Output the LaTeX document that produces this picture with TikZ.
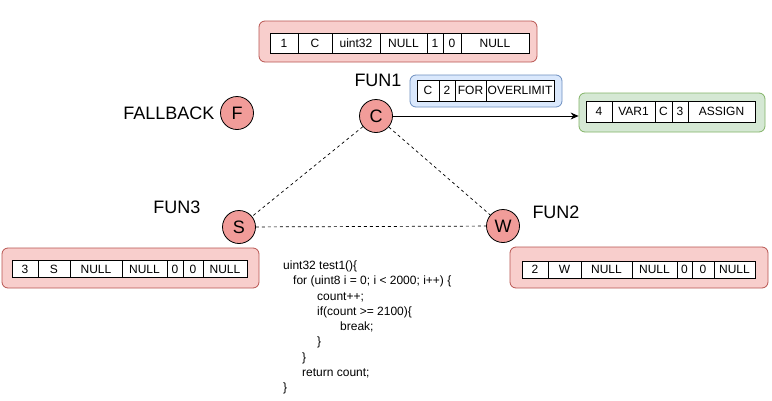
\documentclass[tikz,border=0pt]{standalone}
\usepackage{fontspec}
\setmainfont{Liberation Sans}
\usetikzlibrary{arrows.meta,positioning}
\definecolor{pk}{HTML}{F8CECC}\definecolor{pkd}{HTML}{B85450}
\definecolor{bl}{HTML}{DAE8FC}\definecolor{bld}{HTML}{6C8EBF}
\definecolor{gr}{HTML}{D5E8D4}\definecolor{grd}{HTML}{82B366}
\definecolor{nd}{HTML}{F19C99}
\tikzset{cell/.style={draw,fill=white,inner sep=0pt,outer sep=0pt,minimum height=20pt,line width=.8pt},
 tab/.style={draw=pkd,fill=pk,rounded corners=6pt,line width=.8pt},
 btab/.style={tab,draw=bld,fill=bl},gtab/.style={tab,draw=grd,fill=gr},
 fnode/.style={circle,draw,fill=nd,minimum size=33pt,inner sep=0pt,line width=.8pt,font=\fontsize{18}{20}\selectfont},
 lbl/.style={font=\fontsize{18}{20}\selectfont},
 link/.style={dash pattern=on 3pt off 3pt,line width=.7pt},
 arr/.style={-{Stealth[length=8pt,width=7pt]},line width=.8pt},
 every node/.style={font=\fontsize{12}{14}\selectfont}}
\begin{document}
\begin{tikzpicture}[x=1pt,y=-1pt]
\useasboundingbox (0,0) rectangle (772,400);
% outer boxes
\node[tab,minimum width=278pt,minimum height=41pt] (tbox) at (398,41.5) {};
\node[btab,minimum width=152pt,minimum height=32pt] (fbox) at (486,91) {};
\node[gtab,minimum width=186pt,minimum height=39pt] (gbox) at (672,112.5) {};
\node[tab,minimum width=257pt,minimum height=40pt] (sbox) at (130.5,268) {};
\node[tab,minimum width=258pt,minimum height=41pt] (wbox) at (639,267.5) {};
% FUN1 record
\node[cell,minimum width=28pt,anchor=west] (tc1) at (270,43) {1};
\node[cell,minimum width=34pt,right=0pt of tc1] (tc2) {C};\node[cell,minimum width=48pt,right=0pt of tc2] (tc3) {uint32};
\node[cell,minimum width=47pt,right=0pt of tc3] (tc4) {NULL};\node[cell,minimum width=16pt,right=0pt of tc4] (tc5) {1};
\node[cell,minimum width=18pt,right=0pt of tc5] (tc6) {0};\node[cell,minimum width=68pt,right=0pt of tc6] (tc7) {NULL};
% loop record
\node[cell,minimum width=22pt,minimum height=21pt,anchor=west] (fc1) at (417,90.5) {C};
\node[cell,minimum width=16pt,minimum height=21pt,right=0pt of fc1] (fc2) {2};
\node[cell,minimum width=31pt,minimum height=21pt,right=0pt of fc2] (fc3) {FOR};
\node[cell,minimum width=68pt,minimum height=21pt,right=0pt of fc3] (fc4) {OVERLIMIT};
% variable record
\node[cell,minimum width=26pt,minimum height=21pt,anchor=west] (gc1) at (586,111.5) {4};
\node[cell,minimum width=43pt,minimum height=21pt,right=0pt of gc1] (gc2) {VAR1};
\node[cell,minimum width=17pt,minimum height=21pt,right=0pt of gc2] (gc3) {C};
\node[cell,minimum width=16pt,minimum height=21pt,right=0pt of gc3] (gc4) {3};
\node[cell,minimum width=67pt,minimum height=21pt,right=0pt of gc4] (gc5) {ASSIGN};
% FUN3 record
\node[cell,minimum width=26pt,minimum height=17pt,anchor=west] (sc1) at (12,269) {3};
\node[cell,minimum width=32pt,minimum height=17pt,right=0pt of sc1] (sc2) {S};
\node[cell,minimum width=52pt,minimum height=17pt,right=0pt of sc2] (sc3) {NULL};
\node[cell,minimum width=45pt,minimum height=17pt,right=0pt of sc3] (sc4) {NULL};
\node[cell,minimum width=16pt,minimum height=17pt,right=0pt of sc4] (sc5) {0};
\node[cell,minimum width=20pt,minimum height=17pt,right=0pt of sc5] (sc6) {0};
\node[cell,minimum width=44pt,minimum height=17pt,right=0pt of sc6] (sc7) {NULL};
% FUN2 record
\node[cell,minimum width=26pt,minimum height=17pt,anchor=west] (wc1) at (522,269.5) {2};
\node[cell,minimum width=33pt,minimum height=17pt,right=0pt of wc1] (wc2) {W};
\node[cell,minimum width=51pt,minimum height=17pt,right=0pt of wc2] (wc3) {NULL};
\node[cell,minimum width=45pt,minimum height=17pt,right=0pt of wc3] (wc4) {NULL};
\node[cell,minimum width=15pt,minimum height=17pt,right=0pt of wc4] (wc5) {0};
\node[cell,minimum width=22pt,minimum height=17pt,right=0pt of wc5] (wc6) {0};
\node[cell,minimum width=41pt,minimum height=17pt,right=0pt of wc6] (wc7) {NULL};
% call graph
\node[fnode] (nc) at (376,116) {C};\node[lbl] (lc) at (378,80) {FUN1};
\node[fnode] (nf) at (237,113) {F};\node[lbl,anchor=east] (lf) at (218,113) {FALLBACK};
\node[fnode] (ns) at (239,227) {S};\node[lbl] (ls) at (177,207) {FUN3};
\node[fnode] (nw) at (503,226) {W};\node[lbl] (lw) at (556,212) {FUN2};
\draw[link] (nc)--(ns);\draw[link] (nc)--(nw);\draw[link] (ns)--(nw);
\draw[arr] (nc.east)--(nc.east-|gbox.west);
% source
\node[anchor=north west,align=left,inner sep=0pt,font=\fontsize{12}{15.3}\selectfont] (code) at (283,260.5)
 {uint32 test1()\{\\\hspace*{10pt}for (uint8 i = 0; i < 2000; i++) \{\\\hspace*{34pt}count++;\\
 \hspace*{34pt}if(count >= 2100)\{\\\hspace*{57pt}break;\\\hspace*{34pt}\}\\\hspace*{19pt}\}\\
 \hspace*{19pt}return count;\\\}};
\end{tikzpicture}
\end{document}
